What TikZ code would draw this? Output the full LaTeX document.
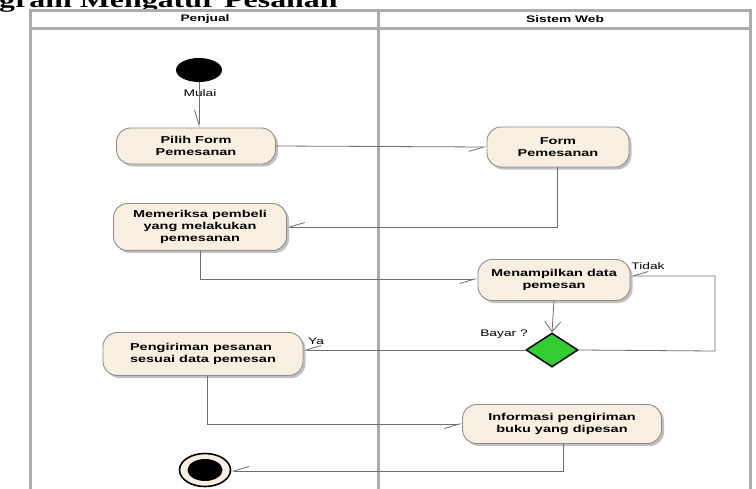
\documentclass[tikz,border=0pt]{standalone}
\usepackage{fontspec}
\setmainfont{Liberation Sans}
\newfontfamily\diafont[FakeStretch=1.45]{Liberation Sans}
\newfontfamily\headfont[FakeStretch=1.45]{Liberation Serif}
\usetikzlibrary{shapes.geometric,shadows,arrows.meta}

\definecolor{boxfill}{RGB}{248,239,225}
\definecolor{boxline}{RGB}{140,140,140}
\definecolor{laneline}{RGB}{172,172,172}
\definecolor{flowline}{RGB}{110,110,110}
\definecolor{decgreen}{RGB}{50,205,50}

\tikzset{
  action/.style={rectangle, rounded corners=14pt, draw=boxline, line width=0.9pt,
    fill=boxfill, align=center, inner sep=2pt,
    font=\diafont\bfseries\fontsize{10}{12}\selectfont,
    drop shadow={shadow xshift=2.5pt, shadow yshift=-2.5pt, fill=black!40, opacity=0.6}},
  lane/.style={draw=laneline, line width=3pt},
  lanehead/.style={font=\diafont\bfseries\fontsize{9.5}{11}\selectfont},
  flowlabel/.style={font=\diafont\fontsize{9.5}{11}\selectfont, inner sep=0pt},
  flow/.style={draw=flowline, line width=0.8pt, -{Straight Barb[length=15pt,width=9pt,right]}},
  flowfull/.style={draw=flowline, line width=0.8pt, -{Straight Barb[length=10pt,width=16pt]}},
}

\begin{document}
\begin{tikzpicture}[x=1pt,y=-1pt]
  \useasboundingbox (0,0) rectangle (756,488);
  \clip (0,0) rectangle (756,488);
  \fill[white] (0,0) rectangle (756,488);

  % heading above the swimlanes, running off the top edge
  \node[anchor=base west, inner sep=0pt, font=\headfont\bfseries\fontsize{22}{24}\selectfont]
    (title) at (-1,7) {gram Mengatur Pesanan};

  % swimlane frame
  \draw[lane] (30,495) -- (30,10) -- (750,10) -- (750,495);
  \draw[lane] (378,10) -- (378,495);
  \draw[lane] (30,28) -- (750,28);
  \node[lanehead] (lane1) at (205,19.5) {Penjual};
  \node[lanehead] (lane2) at (565,19.5) {Sistem Web};

  % activity nodes
  \node[ellipse, fill=black, minimum width=46pt, minimum height=24pt, inner sep=0pt] (start) at (199,70) {};
  \node[flowlabel] (mulai) at (200,93) {Mulai};

  \node[action, minimum width=159pt, minimum height=36pt] (pilih) at (196,146) {Pilih Form\\Pemesanan};
  \node[action, minimum width=142pt, minimum height=40pt] (form) at (558,147) {Form\\Pemesanan};
  \node[action, minimum width=173pt, minimum height=47pt] (periksa) at (200,227) {Memeriksa pembeli\\yang melakukan\\pemesanan};
  \node[action, minimum width=152pt, minimum height=41pt] (tampil) at (554,280) {Menampilkan data\\pemesan};
  \node[diamond, draw=black, line width=1.5pt, fill=decgreen, minimum width=52pt, minimum height=34pt, inner sep=0pt] (bayar) at (552,350) {};
  \node[action, minimum width=200pt, minimum height=43pt, align=left] (kirim) at (203,354) {Pengiriman pesanan\\sesuai data pemesan};
  \node[action, minimum width=199pt, minimum height=39pt] (info) at (562,424) {Informasi pengiriman\\buku yang dipesan};

  \node[ellipse, draw=black, line width=1.6pt, fill=boxfill, minimum width=51pt, minimum height=33pt, inner sep=0pt] (akhir) at (205,470) {};
  \node[ellipse, fill=black, minimum width=35pt, minimum height=22pt, inner sep=0pt] (akhirdot) at (205,470) {};

  % guard labels
  \node[flowlabel] (tidak) at (648,266) {Tidak};
  \node[flowlabel] (ya) at (316,341) {Ya};
  \node[flowlabel] (tanya) at (504,334) {Bayar ?};

  % bend points
  \coordinate (c1) at (557,227);
  \coordinate (c2) at (200,279);
  \coordinate (c3) at (715,351);
  \coordinate (c4) at (715,276);
  \coordinate (c5) at (207,424);
  \coordinate (c6) at (563,471);

  % control flow
  \draw[flow] (start.south) -- (start.south |- pilih.north);
  \draw[flow] (pilih.east) -- (form.west);
  \draw[flow] (c1 |- form.south) -- (c1) -- (c1 -| periksa.east);
  \draw[flow] (c2 |- periksa.south) -- (c2) -- (c2 -| tampil.west);
  \draw[flowfull] (tampil.south) -- (bayar.north);
  \draw[flow] (bayar.east) -- (c3) -- (c4) -- (c4 -| tampil.east);
  \draw[flow] (bayar.west) -- (bayar.west -| kirim.east);
  \draw[flow] (c5 |- kirim.south) -- (c5) -- (c5 -| info.west);
  \draw[flow] (c6 |- info.south) -- (c6) -- (c6 -| akhir.east);
\end{tikzpicture}
\end{document}
